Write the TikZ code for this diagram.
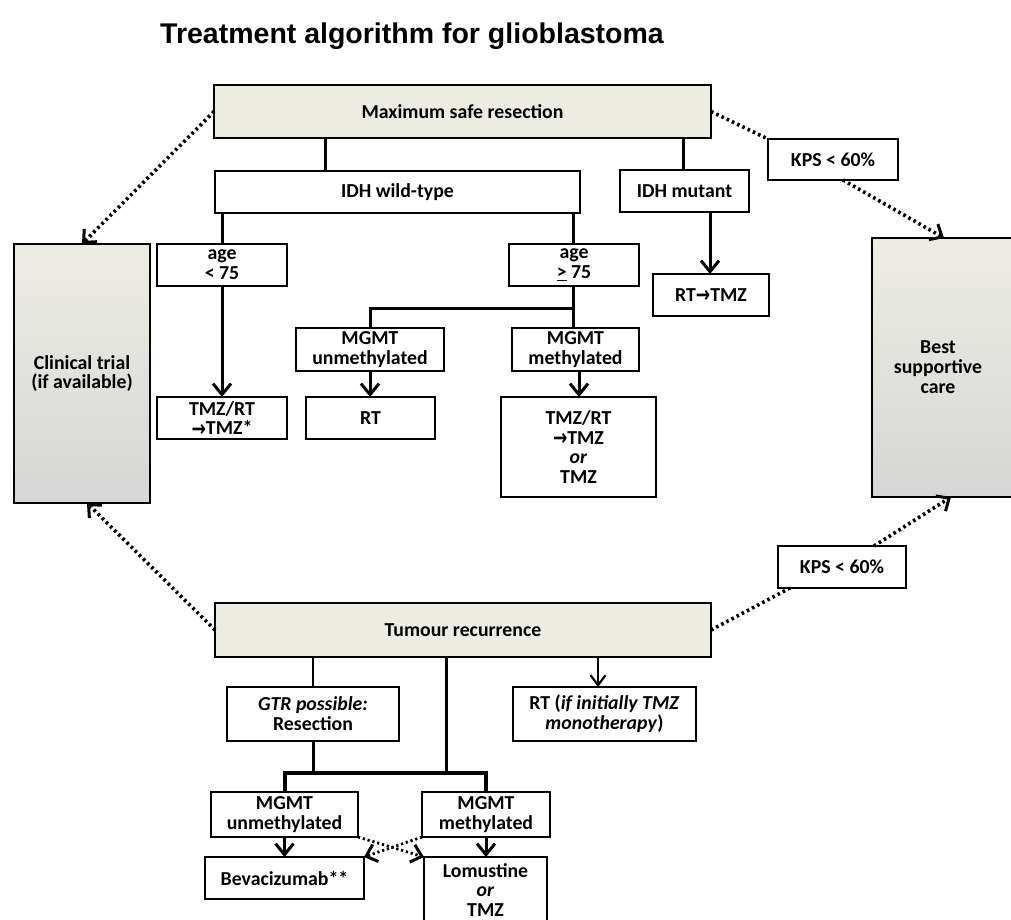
\documentclass[tikz,border=0pt]{standalone}
\usepackage{graphicx}
\usepackage{fontspec}
\setmainfont{Carlito}
\newfontfamily\titlefont{Liberation Sans}
\newfontfamily\symf{DejaVu Sans}
\usetikzlibrary{arrows.meta,calc}
\definecolor{beige}{RGB}{237,236,226}
\definecolor{gradtop}{RGB}{237,236,228}
\definecolor{gradbot}{RGB}{214,214,214}
\newcommand{\rarr}{{\symf\bfseries\fontsize{18}{18}\selectfont\smash{\raisebox{-1.5pt}{\scalebox{0.95}[1.25]{→}}}}}
\begin{document}
\begin{tikzpicture}[x=1pt,y=-1pt,
  box/.style={draw=black, line width=1.8pt, fill=white, inner sep=0pt, outer sep=0pt,
    align=center, font=\fontsize{19.8}{19.8}\selectfont\bfseries},
  bbox/.style={box, fill=beige},
  gbox/.style={box, top color=gradtop, bottom color=gradbot},
  txt/.style={inner sep=0pt, align=center, font=\fontsize{19.8}{19.8}\selectfont\bfseries},
  conn/.style={line width=3pt},
  conn2/.style={line width=2.2pt},
  conn3/.style={line width=4pt},
  arr/.style={-{Straight Barb[length=11pt,width=18pt]}},
  arr2/.style={-{Straight Barb[length=10pt,width=15pt]}},
  dots/.style={line width=3.6pt, dash pattern=on 2.6pt off 3.2pt},
  dots2/.style={line width=2.8pt, dash pattern=on 2.2pt off 2.8pt},
  darr/.style={-{Straight Barb[length=10pt,width=18pt,line width=3pt]}}
]
\useasboundingbox (0,0) rectangle (1011,920);
\fill[white] (0,0) rectangle (1011,920);

% title
\node[inner sep=0pt, font=\titlefont\bfseries\fontsize{28.5}{30}\selectfont] (title) at (412,36) {Treatment algorithm for glioblastoma};

% upper nodes
\node[bbox, minimum width=497pt, minimum height=53pt] (max) at (462.5,111.5) {Maximum safe resection};
\node[box, minimum width=365pt, minimum height=42pt] (idhwt) at (397.5,192) {IDH wild-type};
\node[box, minimum width=129pt, minimum height=42pt] (idhmut) at (684.5,191) {IDH mutant};
\node[box, minimum width=130pt, minimum height=41pt] (kps1) at (833,159.5) {KPS < 60\%};
\node[gbox, minimum width=136pt, minimum height=259pt] (clin) at (82,373.5) {Clinical trial\\(if available)};
\node[gbox, minimum width=144pt, minimum height=259pt] (best) at (944,367.5) {};
\node[txt] (besttxt) at (938,367) {Best\\supportive\\care};
\node[box, minimum width=130pt, minimum height=42pt] (age1) at (222,265) {age\\< 75};
\node[box, minimum width=130pt, minimum height=42pt] (age2) at (574,265) {age\\\underline{>} 75};
\node[box, minimum width=116pt, minimum height=42pt] (rttmz) at (711,295) {RT\rarr TMZ};
\node[box, minimum width=148pt, minimum height=43pt] (mgmtu1) at (370,349.5) {MGMT\\unmethylated};
\node[box, minimum width=127pt, minimum height=43pt] (mgmtm1) at (575.5,349.5) {MGMT\\methylated};
\node[box, minimum width=130pt, minimum height=42pt] (tmzrt1) at (222,418) {TMZ/RT\\\rarr TMZ*};
\node[box, minimum width=129pt, minimum height=42pt] (rt1) at (370.5,418) {RT};
\node[box, minimum width=155pt, minimum height=100pt] (tmzrt2) at (578.5,447) {TMZ/RT\\\rarr TMZ\\\textit{or}\\TMZ};

% lower nodes
\node[box, minimum width=128pt, minimum height=42pt] (kps2) at (842,567) {KPS < 60\%};
\node[bbox, minimum width=496pt, minimum height=54pt] (tum) at (463,630) {Tumour recurrence};
\node[box, minimum width=172pt, minimum height=54pt] (gtr) at (313,714) {\textit{GTR possible:}\\Resection};
\node[box, minimum width=183pt, minimum height=54pt] (rt2) at (604.5,714) {RT (\textit{if initially TMZ}\\\textit{monotherapy})};
\node[box, minimum width=147pt, minimum height=45pt] (mgmtu2) at (284.5,814.5) {MGMT\\unmethylated};
\node[box, minimum width=128pt, minimum height=45pt] (mgmtm2) at (486,814.5) {MGMT\\methylated};
\node[box, minimum width=159pt, minimum height=42pt] (bev) at (284.5,878) {Bevacizumab**};
\node[box, minimum width=123pt, minimum height=66pt] (lom) at (485.5,890) {Lomustine\\\textit{or}\\TMZ};

% helper coordinates
\coordinate (x325) at (325,0);
\coordinate (x683) at (683,0);
\coordinate (x573) at (573,0);
\coordinate (x579) at (579,0);
\coordinate (x710) at (710,0);
\coordinate (x446) at (446,0);
\coordinate (x598) at (598,0);
\coordinate (j1) at (573,308);
\coordinate (j2) at (446,773);

% upper connectors
\draw[conn] (max.south -| x325) -- (idhwt.north -| x325);
\draw[conn] (max.south -| x683) -- (idhmut.north -| x683);
\draw[conn] (idhwt.south -| age1.north) -- (age1.north);
\draw[conn] (idhwt.south -| x573) -- (age2.north -| x573);
\draw[conn,arr] (age1.south) -- (tmzrt1.north);
\draw[conn] (age2.south -| x573) -- (mgmtm1.north -| x573);
\draw[conn] (j1) -| (mgmtu1.north);
\draw[conn,arr] (mgmtu1.south) -- (rt1.north -| mgmtu1.south);
\draw[conn,arr] (mgmtm1.south -| x579) -- (tmzrt2.north -| x579);
\draw[conn,arr] (idhmut.south -| x710) -- (rttmz.north -| x710);

% dotted connectors
\draw[dots,darr] (max.west) -- (clin.north);
\draw[dots] (max.east) -- (kps1.north west);
\draw[dots,darr] ([xshift=10pt]kps1.south) -- (best.north);
\draw[dots,darr] (tum.west) -- ([xshift=5pt]clin.south);
\draw[dots] (tum.east) -- ([xshift=12pt]kps2.south west);
\draw[dots,darr] ([xshift=-32pt]kps2.north east) -- ([xshift=7pt]best.south);

% lower connectors
\draw[conn2] (tum.south -| gtr.north) -- (gtr.north);
\draw[conn2,arr2] (tum.south -| x598) -- (rt2.north -| x598);
\draw[conn] (tum.south -| x446) -- (j2);
\draw[conn] (gtr.south) -- (gtr.south |- j2);
\draw[conn3] (mgmtu2.north) |- (j2) -| (mgmtm2.north);
\draw[conn,arr] (mgmtu2.south) -- (bev.north -| mgmtu2.south);
\draw[conn,arr] (mgmtm2.south) -- (lom.north -| mgmtm2.south);
\draw[dots2,darr] (mgmtu2.south east) -- (lom.north west);
\draw[dots2,darr] (mgmtm2.south west) -- (bev.north east);
\end{tikzpicture}
\end{document}
